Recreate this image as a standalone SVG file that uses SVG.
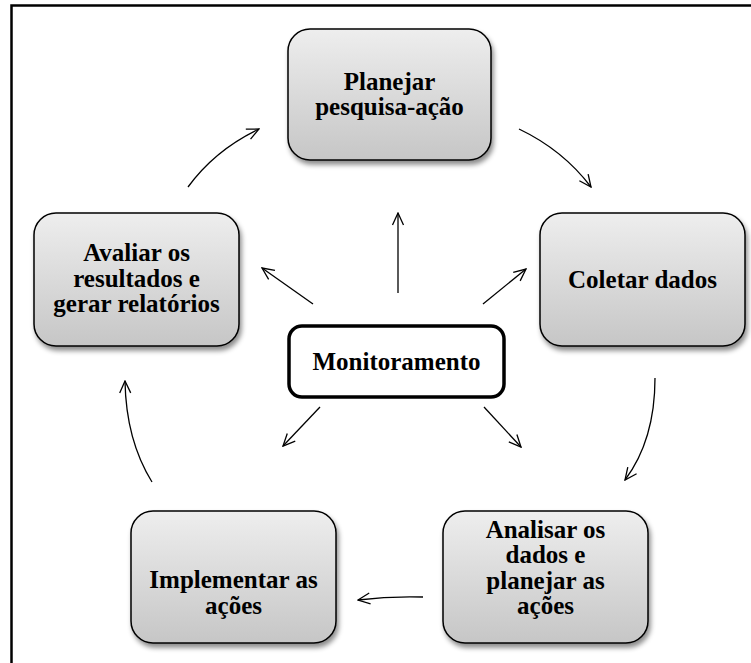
<svg xmlns="http://www.w3.org/2000/svg" width="751" height="663" viewBox="0 0 751 663">
  <defs>
    <linearGradient id="boxFill" x1="0" y1="0" x2="0" y2="1">
      <stop offset="0" stop-color="#eeeeee"/>
      <stop offset="1" stop-color="#c6c6c6"/>
    </linearGradient>
    <filter id="shadow" x="-10%" y="-10%" width="125%" height="130%">
      <feDropShadow dx="2" dy="4" stdDeviation="2.5" flood-color="#000" flood-opacity="0.45"/>
    </filter>
    <marker id="arrow" viewBox="0 0 14 14" refX="13" refY="7" markerWidth="14" markerHeight="14" markerUnits="userSpaceOnUse" orient="auto">
      <path d="M1,1.5 L13,7 L1,12.5" fill="none" stroke="#000" stroke-width="1.3"/>
    </marker>
    <style>
      .box { fill: url(#boxFill); stroke: #000; stroke-width: 1.5; filter: url(#shadow); }
      .center { fill: #fff; stroke: #000; stroke-width: 3.5; }
      .label { font-family: "Liberation Serif", "Times New Roman", serif; font-weight: bold; font-size: 25px; fill: #000; text-anchor: middle; }
      .conn { fill: none; stroke: #000; stroke-width: 1.3; marker-end: url(#arrow); }
      .frame { fill: none; stroke: #000; stroke-width: 2.5; }
    </style>
  </defs>

  <rect width="751" height="663" fill="#fff"/>

  <!-- page frame (open to the right and bottom) -->
  <path class="frame" d="M11.5,663 L11.5,5.5 L751,5.5"/>

  <!-- cycle connectors and monitoring spokes -->
  <g id="connectors">
    <path class="conn" d="M188,187 Q215,150 259,129"/>
    <path class="conn" d="M519,129 Q563,150 591,187"/>
    <path class="conn" d="M655,378 Q655,440 625,480"/>
    <path class="conn" d="M423,597 Q390,596 358,600"/>
    <path class="conn" d="M152,482 Q126,440 125,381"/>
    <path class="conn" d="M398,293 L398,213"/>
    <path class="conn" d="M313,304 L262,268"/>
    <path class="conn" d="M483,304 L526,269"/>
    <path class="conn" d="M320,407 L283,446"/>
    <path class="conn" d="M484,407 L521,447"/>
  </g>

  <g id="planejar">
    <rect class="box" x="288" y="29" width="203" height="131" rx="22"/>
    <text class="label" x="389.5" y="90">Planejar</text>
    <text class="label" x="389.5" y="115">pesquisa-ação</text>
  </g>

  <g id="coletar">
    <rect class="box" x="540" y="213" width="205" height="133" rx="22"/>
    <text class="label" x="642.5" y="288">Coletar dados</text>
  </g>

  <g id="analisar">
    <rect class="box" x="443" y="511" width="205" height="132" rx="22"/>
    <text class="label" x="545.5" y="538">Analisar os</text>
    <text class="label" x="545.5" y="563">dados e</text>
    <text class="label" x="545.5" y="589">planejar as</text>
    <text class="label" x="545.5" y="614">ações</text>
  </g>

  <g id="implementar">
    <rect class="box" x="131" y="511" width="205" height="132" rx="22"/>
    <text class="label" x="233.5" y="588">Implementar as</text>
    <text class="label" x="233.5" y="614">ações</text>
  </g>

  <g id="avaliar">
    <rect class="box" x="34" y="213" width="205" height="133" rx="22"/>
    <text class="label" x="136.5" y="261">Avaliar os</text>
    <text class="label" x="136.5" y="287">resultados e</text>
    <text class="label" x="136.5" y="312">gerar relatórios</text>
  </g>

  <g id="monitoramento">
    <rect class="center" x="289" y="326" width="215" height="71" rx="13"/>
    <text class="label" x="396.5" y="370">Monitoramento</text>
  </g>
</svg>
